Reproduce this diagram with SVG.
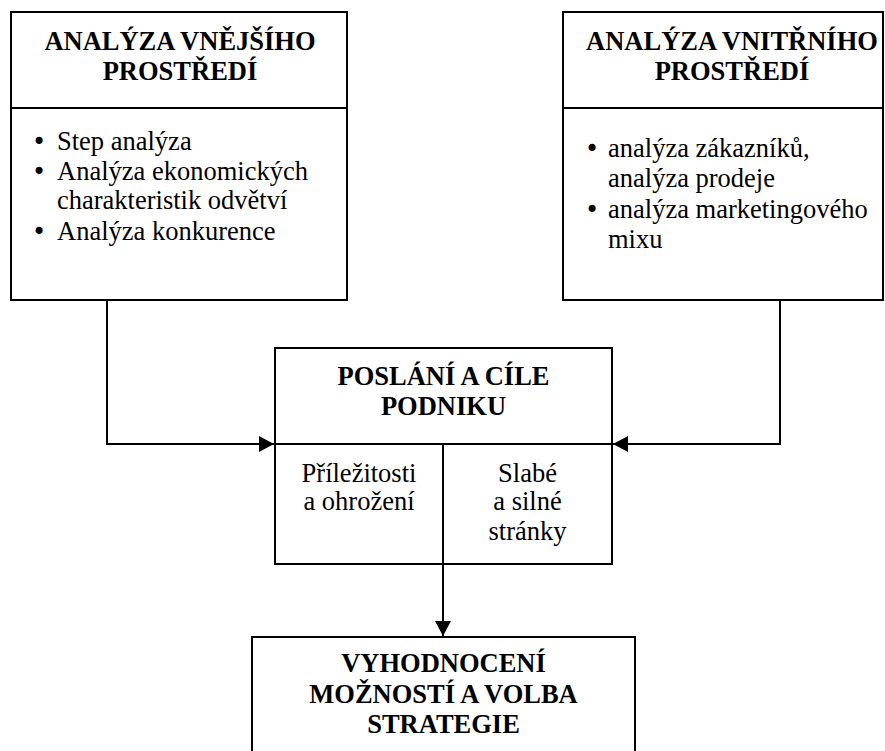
<svg xmlns="http://www.w3.org/2000/svg" width="885" height="751" viewBox="0 0 885 751">
<style>
.box{fill:#fff;stroke:#000;stroke-width:2}
.ln{fill:none;stroke:#000;stroke-width:2}
text{font-family:"Liberation Serif","Times New Roman",serif;font-size:26.5px;fill:#000}
.b{font-weight:bold;text-anchor:middle}
.c{text-anchor:middle}
.bu{font-family:"DejaVu Sans",sans-serif;font-size:24px}
</style>
<defs>
<marker id="ah" markerUnits="userSpaceOnUse" markerWidth="16" markerHeight="16" refX="15" refY="8" orient="auto">
<path d="M0,0 L15,8 L0,16 Z" fill="#000"/>
</marker>
</defs>
<g id="connectors">
<polyline class="ln" points="107,300 107,444 274,444" marker-end="url(#ah)"/>
<polyline class="ln" points="780,300 780,444 613,444" marker-end="url(#ah)"/>
<line class="ln" x1="443" y1="564" x2="443" y2="636" marker-end="url(#ah)"/>
</g>
<g id="outer">
<rect class="box" x="11" y="12" width="336" height="288"/>
<line class="ln" x1="11" y1="108" x2="347" y2="108"/>
<text class="b" x="180" y="50">ANALÝZA VNĚJŠÍHO</text>
<text class="b" x="180" y="80">PROSTŘEDÍ</text>
<text class="bu" x="32" y="150">•</text><text x="57" y="150">Step analýza</text>
<text class="bu" x="32" y="180">•</text><text x="57" y="180">Analýza ekonomických</text>
<text x="57" y="209">charakteristik odvětví</text>
<text class="bu" x="32" y="240">•</text><text x="57" y="240">Analýza konkurence</text>
</g>
<g id="inner">
<rect class="box" x="563" y="12" width="320" height="288"/>
<line class="ln" x1="563" y1="108" x2="883" y2="108"/>
<text class="b" x="732" y="50">ANALÝZA VNITŘNÍHO</text>
<text class="b" x="732" y="80">PROSTŘEDÍ</text>
<text class="bu" x="585" y="157">•</text><text x="608" y="157">analýza zákazníků,</text>
<text x="608" y="187">analýza prodeje</text>
<text class="bu" x="585" y="218">•</text><text x="608" y="218">analýza marketingového</text>
<text x="608" y="248">mixu</text>
</g>
<g id="mission">
<rect class="box" x="275" y="348" width="337" height="216"/>
<line class="ln" x1="275" y1="444" x2="612" y2="444"/>
<line class="ln" x1="443" y1="444" x2="443" y2="564"/>
<text class="b" x="443.5" y="385">POSLÁNÍ A CÍLE</text>
<text class="b" x="443.5" y="415">PODNIKU</text>
<text class="c" x="359" y="482">Příležitosti</text>
<text class="c" x="359" y="510">a ohrožení</text>
<text class="c" x="527.5" y="482">Slabé</text>
<text class="c" x="527.5" y="510">a silné</text>
<text class="c" x="527.5" y="540">stránky</text>
</g>
<g id="strategy">
<rect class="box" x="252" y="637" width="383" height="140"/>
<text class="b" x="443.5" y="672">VYHODNOCENÍ</text>
<text class="b" x="443.5" y="703">MOŽNOSTÍ A VOLBA</text>
<text class="b" x="443.5" y="733">STRATEGIE</text>
</g>
</svg>
